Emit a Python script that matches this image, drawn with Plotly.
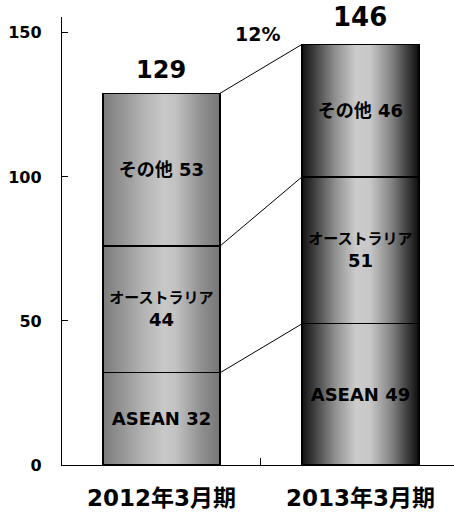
import plotly.graph_objects as go

categories = ["2012年3月期", "2013年3月期"]
asean = [32, 49]
australia = [44, 51]
other = [53, 46]
totals = [129, 146]
growth_label = "12%"
y_ticks = [0, 50, 100, 150]

seg_names = ["ASEAN", "オーストラリア", "その他"]
series = [asean, australia, other]

BAR_W = 0.588
FONT = "DejaVu Sans, Noto Sans CJK JP, sans-serif"

grad_scales = [
    [[0, "#7c7c7c"], [0.12, "#8e8e8e"], [0.35, "#b4b4b4"], [0.52, "#c8c8c8"],
     [0.62, "#c2c2c2"], [0.85, "#8e8e8e"], [1, "#767676"]],
    [[0, "#121212"], [0.1, "#3c3c3c"], [0.28, "#8e8e8e"], [0.46, "#cbcbcb"],
     [0.58, "#c8c8c8"], [0.76, "#858585"], [0.9, "#3e3e3e"], [1, "#0c0c0c"]],
]

fig = go.Figure()

# gradient fills (base subplot, underneath)
for i in range(len(categories)):
    x0, x1 = i - BAR_W / 2, i + BAR_W / 2
    fig.add_trace(go.Scatter(
        x=[x0, x1, x1, x0, x0], y=[0, 0, totals[i], totals[i], 0],
        mode="lines", fill="toself", line=dict(width=0),
        fillgradient=dict(type="horizontal", colorscale=grad_scales[i]),
        hoverinfo="skip", showlegend=False))

# connecting lines between stacks
cum = [0, 0]
for s in series:
    cum = [cum[k] + s[k] for k in range(2)]
    fig.add_trace(go.Scatter(
        x=[0 + BAR_W / 2, 1 - BAR_W / 2], y=list(cum), mode="lines",
        line=dict(color="black", width=1), hoverinfo="skip", showlegend=False))

# bars (overlay subplot, outlines + labels)
def seg_text(name, v):
    if name == "オーストラリア":
        return f"<b><span style='font-size:15px;font-weight:bold'>{name}</span><br>{v}</b>"
    return f"<b>{name} {v}</b>"

for name, vals in zip(seg_names, series):
    fig.add_trace(go.Bar(
        x=[0, 1], y=vals, width=BAR_W, xaxis="x2", yaxis="y2",
        marker=dict(color="rgba(0,0,0,0)", line=dict(color="black", width=1.3)),
        text=[seg_text(name, v) for v in vals], textposition="inside",
        insidetextanchor="middle", constraintext="none", textangle=0,
        insidetextfont=dict(family=FONT, size=18, color="black"),
        hoverinfo="skip", showlegend=False))

annotations = []
for i, t in enumerate(totals):
    annotations.append(dict(
        x=i, y=t, xref="x", yref="y", text=f"<b>{t}</b>", showarrow=False,
        yanchor="bottom", yshift=7 if i == 0 else 10,
        font=dict(family=FONT, size=24 if i == 0 else 26, color="black")))
annotations.append(dict(
    x=0.48, y=149.5, xref="x", yref="y", text=f"<b>{growth_label}</b>", showarrow=False,
    font=dict(family=FONT, size=19, color="black")))

xr = [-0.5, 1.47]
yr = [0, 155.5]
fig.update_layout(
    width=454, height=513,
    margin=dict(l=62, r=0, t=17, b=48, autoexpand=False),
    paper_bgcolor="white", plot_bgcolor="white",
    barmode="stack",
    annotations=annotations,
    xaxis=dict(range=xr, tickvals=[0, 1], ticktext=[f"<b>{c}</b>" for c in categories],
               ticks="", automargin=False,
               showgrid=False, zeroline=False, showline=True, linecolor="black",
               linewidth=1.3, ticklabelstandoff=12,
               tickfont=dict(family=FONT, size=23, color="black"),
               minor=dict(tickvals=[0.5], ticks="inside", ticklen=7,
                          tickcolor="black", tickwidth=1, showgrid=False)),
    yaxis=dict(range=yr, tickvals=y_ticks, ticktext=[f"<b>{v}</b>" for v in y_ticks],
               ticks="inside", ticklen=6, automargin=False,
               tickcolor="black", tickwidth=1, showgrid=False, zeroline=False,
               showline=True, linecolor="black", linewidth=1.3,
               ticklabelstandoff=16,
               tickfont=dict(family=FONT, size=16, color="black")),
    xaxis2=dict(range=xr, overlaying="x", visible=False),
    yaxis2=dict(range=yr, overlaying="y", visible=False),
)

fig.write_html("out.html", config={"displayModeBar": False},
               post_script="document.body.style.margin='0';")
